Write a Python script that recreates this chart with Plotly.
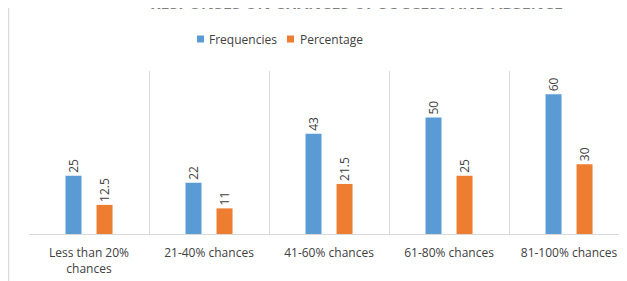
import plotly.graph_objects as go

categories = ["Less than 20%<br>chances", "21-40% chances", "41-60% chances", "61-80% chances", "81-100% chances"]
frequencies = [25, 22, 43, 50, 60]
percentage = [12.5, 11, 21.5, 25, 30]
freq_labels = ["25", "22", "43", "50", "60"]
pct_labels = ["12.5", "11", "21.5", "25", "30"]
series_names = ["Frequencies", "Percentage"]

BLUE = "#5B9BD5"
ORANGE = "#ED7D31"
TXT = "#404040"
FONT = "Open Sans"

W, H = 619, 273
ML, MT, MB = 21, 63, 47
PW = W - ML
PH = H - MT - MB


def px(x):
    return (x - ML) / PW


def py(y):
    return (H - MB - y) / PH


fig = go.Figure()
for name, vals, labs, col in [(series_names[0], frequencies, freq_labels, BLUE),
                              (series_names[1], percentage, pct_labels, ORANGE)]:
    fig.add_trace(go.Bar(
        x=categories, y=vals, name=name, marker=dict(color=col, line=dict(width=0)),
        text=labs, textposition="outside", textangle=-90, cliponaxis=False,
        constraintext="none", showlegend=False,
        textfont=dict(family=FONT, size=12, color=TXT),
    ))

shapes = [dict(type="line", xref="paper", yref="paper",
               x0=px(0.5), x1=px(0.5), y0=py(H), y1=py(0),
               line=dict(color="#d9d9d9", width=1.5))]
annotations = [dict(text="<b>RESPONSES ON CHANCES OF SUCCESS AND ABSENCE</b>", xref="paper", yref="paper",
                    x=px(348), xanchor="center", y=py(8), yanchor="bottom",
                    showarrow=False, font=dict(family=FONT, size=16, color="#7f7f7f"))]

# legend drawn as small squares + labels
for name, col, sx, tx in [(series_names[0], BLUE, 189, 199), (series_names[1], ORANGE, 279, 290)]:
    shapes.append(dict(type="rect", xref="paper", yref="paper",
                       x0=px(sx), x1=px(sx + 7), y0=py(34.5), y1=py(27.5),
                       fillcolor=col, line=dict(width=0)))
    annotations.append(dict(text=name, xref="paper", yref="paper", x=px(tx), xanchor="left",
                            y=py(31), yanchor="middle", showarrow=False,
                            font=dict(family=FONT, size=12, color=TXT)))

fig.update_layout(
    width=W, height=H,
    margin=dict(l=ML, r=0, t=MT, b=MB),
    paper_bgcolor="white", plot_bgcolor="white",
    barmode="group", bargap=0.483, bargroupgap=0.484,
    font=dict(family=FONT, size=12, color=TXT),
    showlegend=False,
    xaxis=dict(type="category", range=[-0.5, 4.483], tickson="boundaries",
               showgrid=True, gridcolor="#d9d9d9", gridwidth=1,
               showline=True, linecolor="#d9d9d9", linewidth=1,
               ticks="", ticklabelstandoff=8,
               tickfont=dict(family=FONT, size=12, color=TXT), fixedrange=True),
    yaxis=dict(range=[0, 70], showgrid=False, showticklabels=False, zeroline=False,
               showline=False, ticks="", fixedrange=True),
    shapes=shapes,
    annotations=annotations,
)

fig.write_html("out.html")
